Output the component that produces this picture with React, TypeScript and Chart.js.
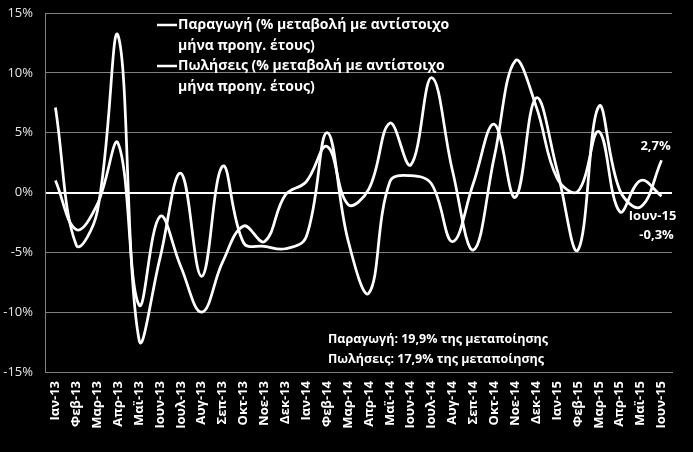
import { useEffect, useRef } from 'react';
import { Chart, registerables } from 'chart.js';

Chart.register(...registerables);

const FONT = "'Open Sans', sans-serif";

const categories = ['Ιαν-13','Φεβ-13','Μαρ-13','Απρ-13','Μαϊ-13','Ιουν-13','Ιουλ-13','Αυγ-13','Σεπ-13','Οκτ-13','Νοε-13','Δεκ-13','Ιαν-14','Φεβ-14','Μαρ-14','Απρ-14','Μαϊ-14','Ιουν-14','Ιουλ-14','Αυγ-14','Σεπ-14','Οκτ-14','Νοε-14','Δεκ-14','Ιαν-15','Φεβ-15','Μαρ-15','Απρ-15','Μαϊ-15','Ιουν-15'];

const production = [7.1,-4.4,-1.6,13.1,-12.3,-5.5,1.6,-7.0,2.2,-4.2,-4.5,-4.7,-3.7,5.0,-4.0,-8.4,0.9,1.4,0.7,-4.1,0.8,5.7,-0.4,7.9,1.9,-4.8,7.2,0.2,-1.2,2.7];
const sales = [1.0,-3.1,-1.0,4.1,-9.4,-2.0,-6.2,-10.0,-5.8,-2.8,-4.1,-0.2,0.9,3.85,-1.0,0.3,5.8,2.3,9.6,1.8,-4.8,3.0,11.0,7.2,1.2,0.1,5.1,-1.6,1.0,-0.3];

const legendNames = [
  ['Παραγωγή (% μεταβολή με αντίστοιχο', 'μήνα προηγ. έτους)'],
  ['Πωλήσεις (% μεταβολή με αντίστοιχο', 'μήνα προηγ. έτους)'],
];
const notes = ['Παραγωγή: 19,9% της μεταποίησης', 'Πωλήσεις: 17,9% της μεταποίησης'];
const endLabelProduction = ['2,7%'];
const endLabelSales = ['Ιουν-15', '-0,3%'];

const yTicks = { min: -15, max: 15, step: 5 };

const overlay = {
  id: 'overlay',
  beforeDraw(chart: any) {
    const ctx = chart.ctx;
    ctx.save();
    ctx.fillStyle = '#000';
    ctx.fillRect(0, 0, chart.width, chart.height);
    ctx.restore();
  },
  afterDraw(chart: any) {
    const ctx = chart.ctx;
    const xs = chart.scales.x;
    const ys = chart.scales.y;
    const area = chart.chartArea;
    ctx.save();
    ctx.fillStyle = '#fff';
    ctx.strokeStyle = '#fff';
    ctx.textBaseline = 'middle';
    // legend
    ctx.font = `bold 14px ${FONT}`;
    const lx = area.left + 112;
    let ly = area.top + 12;
    legendNames.forEach((rows) => {
      ctx.lineWidth = 2.5;
      ctx.beginPath();
      ctx.moveTo(lx, ly);
      ctx.lineTo(lx + 20, ly);
      ctx.stroke();
      ctx.textAlign = 'left';
      rows.forEach((r, i) => {
        ctx.fillText(r, lx + 21, ly + i * 21);
      });
      ly += 41;
    });
    // notes
    ctx.font = `bold 12.5px ${FONT}`;
    const nx = area.left + 283;
    notes.forEach((n, i) => {
      ctx.fillText(n, nx, ys.getPixelForValue(-12.3) + i * 20);
    });
    // end labels
    ctx.font = `bold 13px ${FONT}`;
    const last = categories.length - 1;
    const px = xs.getPixelForValue(last);
    ctx.textAlign = 'center';
    ctx.fillText(endLabelProduction[0], px - 6, ys.getPixelForValue(production[last]) - 14);
    endLabelSales.forEach((t, i) => {
      ctx.fillText(t, px - 9 + i * 4, ys.getPixelForValue(sales[last]) + 20 + i * 19);
    });
    ctx.restore();
  },
};

export default function App() {
  const ref = useRef<HTMLCanvasElement>(null);
  useEffect(() => {
    document.body.style.margin = '0';
    document.body.style.background = '#000';
    const chart = new Chart(ref.current!, {
      type: 'line',
      data: {
        labels: categories,
        datasets: [
          { label: legendNames[0].join(' '), data: production, borderColor: '#fff', borderWidth: 2.75, pointRadius: 0, tension: 0.4, fill: false },
          { label: legendNames[1].join(' '), data: sales, borderColor: '#fff', borderWidth: 2.75, pointRadius: 0, tension: 0.4, fill: false },
        ],
      },
      options: {
        responsive: false,
        animation: false,
        layout: { padding: { top: 13, right: 21, left: 0, bottom: 0 } },
        plugins: { legend: { display: false }, tooltip: { enabled: false } },
        scales: {
          x: {
            offset: true,
            grid: { display: false, drawTicks: false, offset: true },
            border: { display: true, color: '#808080', width: 1 },
            ticks: { color: '#fff', font: { family: FONT, size: 13, weight: 'bold' }, minRotation: 90, maxRotation: 90, padding: 9, autoSkip: false },
            afterFit: (s: any) => { s.height = 80; },
          },
          y: {
            min: yTicks.min,
            max: yTicks.max,
            ticks: { stepSize: yTicks.step, color: '#e6e6e6', font: { family: FONT, size: 13 }, padding: 1, callback: (v: any) => v + '%' },
            grid: {
              drawTicks: true,
              tickLength: 11,
              tickColor: 'rgba(0,0,0,0)',
              color: (c: any) => (c.tick && c.tick.value === 0 ? '#ffffff' : '#808080'),
              lineWidth: (c: any) => (c.tick && c.tick.value === 0 ? 2 : 1),
            },
            border: { display: true, color: '#808080', width: 1 },
            afterFit: (s: any) => { s.width = 45; },
          },
        },
      },
      plugins: [overlay],
    });
    return () => chart.destroy();
  }, []);
  return (
    <div style={{ width: 693, height: 452, background: '#000' }}>
      <canvas ref={ref} width={693} height={452} style={{ display: 'block' }} />
    </div>
  );
}
